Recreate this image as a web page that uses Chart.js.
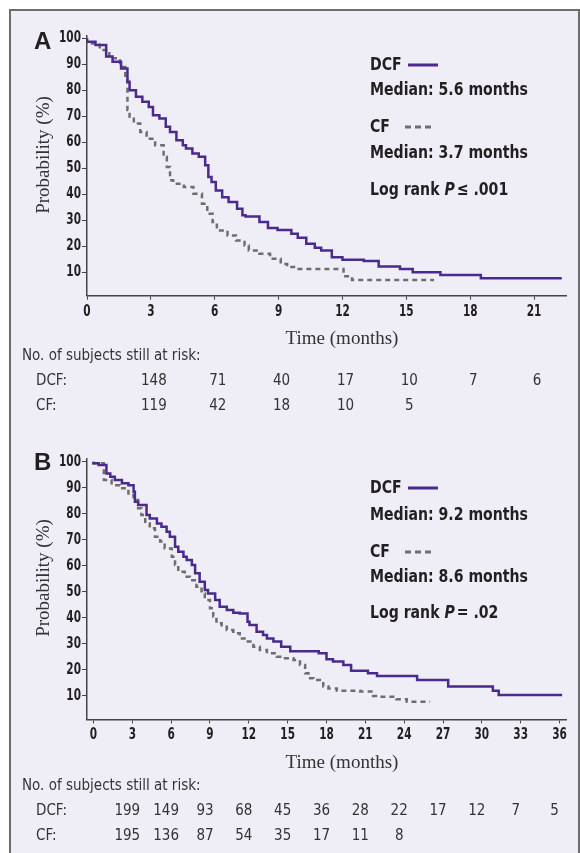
<!DOCTYPE html>
<html>
<head>
<title>Kaplan-Meier DCF vs CF</title>
<script src="https://cdn.jsdelivr.net/npm/chart.js"></script>
<style>
body { margin: 0; background: #fff; width: 580px; height: 853px; overflow: hidden; position: relative; }
.frame { position: absolute; left: 9px; top: 9px; width: 567px; height: 900px; border: 2px solid #6d6d6d; background: #efeef6; }
.plot { position: absolute; left: 0; width: 580px; }
#chartA { top: 0; height: 420px; }
#chartB { top: 420px; height: 433px; }
</style>
</head>
<body>
<div class="frame"></div>
<div class="plot" id="chartA"><canvas id="cA"></canvas></div>
<div class="plot" id="chartB"><canvas id="cB"></canvas></div>
<script>
// panel A: time (months), survival (%)
const dcfA = [[0,100],[0.4,98.7],[0.9,97.4],[1.2,93],[1.6,91],[1.9,88.4],[2.0,83.3],[2.3,80],[2.6,77.5],[2.9,75.6],[3.1,73.6],[3.4,70.4],[3.7,69.2],[3.9,66],[4.2,64],[4.5,60.8],[4.65,58.9],[4.95,57.6],[5.25,55.7],[5.55,54.4],[5.7,51.2],[5.85,46.7],[6.05,44.7],[6.35,41.5],[6.65,38.9],[7.05,37],[7.3,34.4],[7.45,31.9],[8.1,31.5],[8.5,29.3],[8.95,27],[9.6,26.3],[9.9,24.8],[10.3,23.3],[10.7,21],[11.0,19.4],[11.5,18.4],[12.0,15.8],[13.0,14.8],[13.7,14.3],[14.7,12.2],[15.3,11.3],[16.6,10],[18.5,9],[22.1,7.7],[22.3,7.7]];
const cfA = [[0,100],[0.6,98],[1.05,95.5],[1.55,92.3],[1.8,89],[1.9,84],[2.0,72.4],[2.2,69.8],[2.5,67.2],[2.8,64],[3.2,61.4],[3.6,58.9],[3.75,54.4],[3.9,50.5],[4.05,45.4],[4.55,44.1],[5.0,42.8],[5.4,40.2],[5.65,36.4],[5.9,32.5],[6.1,29.3],[6.6,26.1],[7.0,24.2],[7.4,22.2],[7.6,20.3],[8.1,18.4],[8.6,17.1],[9.1,15.2],[9.4,13.2],[9.85,12],[12.05,11.3],[12.45,8.5],[14.3,7],[16.3,7]];
const riskMonthsA = [3, 6, 9, 12, 15, 18, 21];
const riskDcfA = [148, 71, 40, 17, 10, 7, 6];
const riskCfA = [119, 42, 18, 10, 5];

// panel B
const dcfB = [[0,100],[0.4,99.4],[1.0,98.7],[1.3,95.5],[1.65,94.2],[2.2,93],[2.7,91.7],[3.1,91],[3.2,88.5],[3.45,84.6],[4.1,83.4],[4.35,79.5],[4.9,78.2],[5.25,76.3],[5.65,75],[5.9,73.1],[6.3,71.2],[6.55,67.3],[6.95,65.4],[7.2,63.5],[7.6,62.2],[7.85,60.3],[8.2,57.1],[8.6,53.9],[8.85,50.7],[9.4,49.4],[9.75,46.9],[10.3,44.3],[10.8,43],[11.3,42],[11.9,41.7],[12.05,38.5],[12.6,37.3],[13.1,34.7],[13.4,33.4],[13.9,32.1],[14.5,30.9],[15.2,28.9],[17.4,27.2],[18.0,26.4],[18.5,24.1],[19.3,23.2],[19.9,21.9],[21.2,19.7],[21.9,18.7],[25.0,17.7],[27.4,16.1],[30.85,13.6],[31.3,12],[32.7,10.4],[36.2,10.4]];
const cfB = [[0,100],[0.8,99.4],[1.4,93],[1.55,91.7],[2.05,91],[2.7,89.8],[3.1,87.2],[3.45,85.3],[3.7,82.1],[4.0,79.5],[4.35,76.3],[4.75,74.4],[5.15,71.2],[5.5,69.3],[6.05,66.7],[6.3,63.5],[6.55,60.3],[7.05,57.7],[7.45,55.8],[7.95,54.5],[8.35,52],[8.6,49.4],[9.0,46.9],[9.25,43.7],[9.5,40.5],[9.9,37.9],[10.3,36.6],[10.8,35.3],[11.3,34.1],[11.8,32.1],[12.35,30.9],[12.85,28.9],[13.4,27.7],[14.15,26.4],[14.8,25.1],[15.45,24.5],[15.95,23.8],[16.35,21.9],[16.6,18.7],[17.0,16.8],[17.75,16.1],[18.15,13.6],[18.8,12.9],[20.6,12],[21.6,11.7],[22.0,10],[23.4,9.7],[24.2,8.7],[24.7,7.8],[26.0,7.8]];
const riskMonthsB = [3, 6, 9, 12, 15, 18, 21, 24, 27, 30, 33, 36];
const riskDcfB = [199, 149, 93, 68, 45, 36, 28, 22, 17, 12, 7, 5];
const riskCfB = [195, 136, 87, 54, 35, 17, 11, 8];

const yTicks = [10, 20, 30, 40, 50, 60, 70, 80, 90, 100];
const xTicksA = [0, 3, 6, 9, 12, 15, 18, 21];
const xTicksB = [0, 3, 6, 9, 12, 15, 18, 21, 24, 27, 30, 33, 36];

const PURPLE = '#4b2a8e';
const GREY = '#6e6e6e';
const INK = '#231f20';
const NARROW = "'DejaVu Sans Condensed', 'Liberation Sans', sans-serif";

const pts = arr => arr.map(p => ({ x: p[0], y: p[1] }));

// text squeezed horizontally, to get the condensed look of the original
function squeeze(c, str, x, y, align, sx) {
  c.save();
  c.translate(x, y);
  c.scale(sx, 1);
  c.textAlign = align;
  c.fillText(str, 0, 0);
  c.restore();
  return c.measureText(str).width * sx;
}

function makeChart(id, cfg) {
  const canvas = document.getElementById(id);
  const h = canvas.parentNode.clientHeight;
  const textPlugin = {
    id: 'kmText',
    afterDraw(chart) {
      const c = chart.ctx;
      const xs = chart.scales.x, ys = chart.scales.y;
      c.save();
      c.fillStyle = INK;
      c.textBaseline = 'middle';
      // tick labels
      c.font = 'bold 15px ' + NARROW;
      yTicks.forEach(v => squeeze(c, String(v), 81, ys.getPixelForValue(v), 'right', 0.78));
      cfg.xTicks.forEach(v => squeeze(c, String(v), xs.getPixelForValue(v), ys.bottom + 16, 'center', 0.78));
      // panel letter
      c.font = "bold 24px 'Liberation Sans', Arial, sans-serif";
      c.textAlign = 'left';
      c.fillText(cfg.letter, 34, cfg.letterY);
      // y title
      c.save();
      c.translate(44, cfg.yTitleY);
      c.rotate(-Math.PI / 2);
      c.textAlign = 'center';
      c.fillStyle = '#333';
      c.font = "19px 'Liberation Serif', serif";
      c.fillText('Probability (%)', 0, 0);
      c.restore();
      // legend block
      const L = cfg.legend, sx = 0.87;
      c.font = 'bold 18px ' + NARROW;
      squeeze(c, 'DCF', 370, L[0], 'left', sx);
      squeeze(c, cfg.medDcf, 370, L[1], 'left', sx);
      squeeze(c, 'CF', 370, L[2], 'left', sx);
      squeeze(c, cfg.medCf, 370, L[3], 'left', sx);
      let lx = 370;
      lx += squeeze(c, 'Log rank ', lx, L[4], 'left', sx);
      c.font = 'italic bold 18px ' + NARROW;
      lx += squeeze(c, 'P', lx, L[4], 'left', sx) + 2;
      c.font = 'bold 18px ' + NARROW;
      squeeze(c, cfg.pText, lx, L[4], 'left', sx);
      c.lineWidth = 3;
      c.strokeStyle = PURPLE;
      c.beginPath(); c.moveTo(408, L[0]); c.lineTo(438, L[0]); c.stroke();
      c.strokeStyle = GREY;
      c.setLineDash([6, 4]);
      c.beginPath(); c.moveTo(405, L[2]); c.lineTo(433, L[2]); c.stroke();
      c.setLineDash([]);
      // x title and risk table
      c.fillStyle = '#333';
      c.textAlign = 'center';
      c.font = "19px 'Liberation Serif', serif";
      c.fillText('Time (months)', 342, cfg.rows[0]);
      c.textAlign = 'left';
      c.font = '15px ' + NARROW;
      c.fillText('No. of subjects still at risk:', 22, cfg.rows[1]);
      c.fillText('DCF:', 36, cfg.rows[2]);
      c.fillText('CF:', 36, cfg.rows[3]);
      c.textAlign = 'center';
      cfg.riskDcf.forEach((v, i) => c.fillText(String(v), xs.getPixelForValue(cfg.riskMonths[i]) + cfg.riskShift, cfg.rows[2]));
      cfg.riskCf.forEach((v, i) => c.fillText(String(v), xs.getPixelForValue(cfg.riskMonths[i]) + cfg.riskShift, cfg.rows[3]));
      c.restore();
    }
  };
  return new Chart(canvas, {
    type: 'line',
    data: {
      datasets: [
        { label: 'DCF', data: pts(cfg.dcf), borderColor: PURPLE, borderWidth: 2.5, stepped: 'after', pointRadius: 0, fill: false },
        { label: 'CF', data: pts(cfg.cf), borderColor: GREY, borderWidth: 2.5, borderDash: [5, 4], stepped: 'after', pointRadius: 0, fill: false }
      ]
    },
    options: {
      responsive: true,
      maintainAspectRatio: false,
      animation: false,
      layout: { padding: { top: cfg.top, right: 14, left: 0, bottom: 0 } },
      plugins: { legend: { display: false }, tooltip: { enabled: false } },
      scales: {
        x: {
          type: 'linear', min: cfg.xMin, max: cfg.xMax,
          afterBuildTicks: s => { s.ticks = cfg.xTicks.map(v => ({ value: v })); },
          afterFit: s => { s.height = h - cfg.bottom; },
          border: { display: true, color: '#444', width: 1.5 },
          grid: { display: true, drawOnChartArea: false, drawTicks: true, tickLength: 4, color: '#444', lineWidth: 1 },
          ticks: { display: false }
        },
        y: {
          type: 'linear', min: 1, max: 101,
          afterBuildTicks: s => { s.ticks = yTicks.map(v => ({ value: v })); },
          afterFit: s => { s.width = 87; },
          border: { display: true, color: '#444', width: 1.5 },
          grid: { display: true, drawOnChartArea: false, drawTicks: true, tickLength: 5, color: '#444', lineWidth: 1 },
          ticks: { display: false }
        }
      }
    },
    plugins: [textPlugin]
  });
}

makeChart('cA', {
  letter: 'A', letterY: 42, yTitleY: 155, top: 35.7, bottom: 295.7,
  xMin: 0, xMax: 22.5, xTicks: xTicksA,
  dcf: dcfA, cf: cfA,
  legend: [65, 90, 127, 153, 190],
  medDcf: 'Median: 5.6 months', medCf: 'Median: 3.7 months', pText: '\u2264 .001',
  rows: [339, 356, 381, 406],
  riskMonths: riskMonthsA, riskDcf: riskDcfA, riskCf: riskCfA, riskShift: 3
});

makeChart('cB', {
  letter: 'B', letterY: 43, yTitleY: 158, top: 39.1, bottom: 299.4,
  xMin: -0.5, xMax: 36.5, xTicks: xTicksB,
  dcf: dcfB, cf: cfB,
  legend: [68, 95, 132, 157, 193],
  medDcf: 'Median: 9.2 months', medCf: 'Median: 8.6 months', pText: '= .02',
  rows: [343, 366, 391, 416],
  riskMonths: riskMonthsB, riskDcf: riskDcfB, riskCf: riskCfB, riskShift: -5
});
</script>
</body>
</html>
